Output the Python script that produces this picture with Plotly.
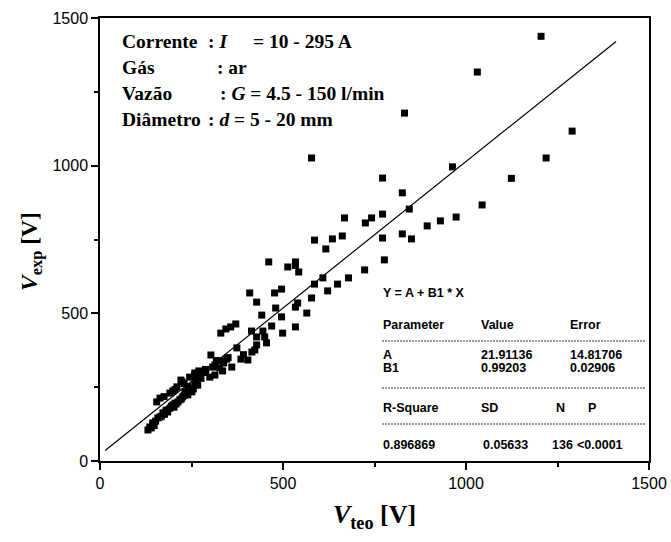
import plotly.graph_objects as go

v_teo = [1205, 1290, 1219, 1124, 1031, 832, 578, 963, 772, 826,
         1044, 845, 772, 973, 930, 894, 668, 742, 725, 662,
         635, 586, 772, 826, 851, 617, 777, 723, 679, 649,
         609, 586, 622, 578, 543, 540, 565, 461, 513, 534,
         534, 496, 477, 409, 428, 534, 480, 442, 496, 534,
         469, 445, 414, 499, 428, 450, 455, 371, 357, 344,
         330, 428, 423, 415, 374, 303, 346, 338, 327, 314,
         308, 385, 404, 360, 335, 327, 314, 300, 270, 267,
         259, 131, 136, 144, 158, 164, 172, 183, 185, 191,
         199, 205, 213, 218, 226, 240, 232, 251, 259, 155,
         164, 191, 199, 224, 221, 210, 245, 259, 273, 140,
         148, 152, 168, 176, 180, 195, 202, 208, 222, 230,
         236, 245, 255, 262, 276, 283, 289, 175, 205, 230,
         260, 318, 350, 392, 288, 240]
v_exp = [1438, 1117, 1026, 957, 1317, 1178, 1026, 996, 958, 908,
         867, 853, 836, 826, 813, 796, 823, 823, 806, 762,
         752, 748, 755, 769, 752, 718, 681, 647, 620, 599,
         620, 599, 576, 552, 640, 535, 501, 674, 657, 674,
         662, 582, 569, 569, 538, 521, 518, 494, 488, 454,
         457, 440, 440, 433, 420, 420, 400, 464, 454, 447,
         433, 393, 376, 369, 383, 359, 345, 332, 339, 325,
         318, 345, 342, 318, 305, 315, 291, 284, 305, 257,
         291, 105, 115, 129, 146, 149, 163, 173, 166, 179,
         190, 196, 200, 207, 217, 224, 234, 234, 257, 200,
         213, 230, 237, 268, 274, 251, 284, 298, 291, 112,
         120, 135, 152, 158, 170, 185, 182, 193, 210, 222,
         228, 240, 244, 270, 280, 300, 305, 218, 242, 262,
         286, 340, 350, 360, 310, 252]

# Linear fit parameters
fit_a = 21.91136
fit_b1 = 0.99203
fit_x = [14, 1410]
fit_y = [fit_a + fit_b1 * x for x in fit_x]

info_labels = ["Corrente", "Gás", "Vazão", "Diâmetro"]
info_values = [": <i>I</i>", ": ar",
               ": <i>G</i> = 4.5 - 150 l/min", ": <i>d</i> = 5 - 20 mm"]
current_range = "= 10 - 295 A"

table_rows = [
    ["Parameter", "Value", "Error"],
    ["A", "21.91136", "14.81706"],
    ["B1", "0.99203", "0.02906"],
]
stat_header = ["R-Square", "SD", "N", "P"]
stat_values = ["0.896869", "0.05633", "136", "<0.0001"]

x_title = "<b><i>V</i><sub>teo</sub> [V]</b>"
y_title = "<b><i>V</i><sub>exp</sub> [V]</b>"

W, H = 671, 542
L, R, T, B = 100, 22, 18, 81
PW, PH = W - L - R, H - T - B


def px(x):
    return (x - L) / PW


def py(y):
    return (H - B - y) / PH


fig = go.Figure()
fig.add_trace(go.Scatter(x=v_teo, y=v_exp, mode="markers",
                         marker=dict(symbol="square", size=7, color="black",
                                     line=dict(width=0)),
                         showlegend=False))
fig.add_trace(go.Scatter(x=fit_x, y=fit_y, mode="lines",
                         line=dict(color="black", width=1.2),
                         showlegend=False))

ann = []
serif = dict(family="Liberation Serif", size=19.5, color="black")
label_y = [41, 67, 93, 119]
value_x = [206, 215, 218, 206]
for lab, val, yy, vx in zip(info_labels, info_values, label_y, value_x):
    ann.append(dict(x=px(120), y=py(yy), xref="paper", yref="paper",
                    text="<b>" + lab + "</b>", showarrow=False,
                    xanchor="left", yanchor="middle", font=serif))
    ann.append(dict(x=px(vx), y=py(yy), xref="paper", yref="paper",
                    text="<b>" + val + "</b>", showarrow=False,
                    xanchor="left", yanchor="middle", font=serif))
ann.append(dict(x=px(251), y=py(label_y[0]), xref="paper", yref="paper",
                text="<b>" + current_range + "</b>", showarrow=False,
                xanchor="left", yanchor="middle", font=serif))

sans = dict(family="Liberation Sans", size=12.5, color="black")


def tx(text, x, y):
    ann.append(dict(x=px(x), y=py(y), xref="paper", yref="paper",
                    text="<b>" + text + "</b>", showarrow=False,
                    xanchor="left", yanchor="middle", font=sans))


tx("Y = A + B1 * X", 381, 293)
col_x = [381, 479, 568]
row_y = [325, 355, 368]
for row, yy in zip(table_rows, row_y):
    for t, xx in zip(row, col_x):
        tx(t, xx, yy)
for t, xx in zip(stat_header, [381, 479, 554, 586]):
    tx(t, xx, 408)
for t, xx in zip(stat_values, [381, 481, 550, 575]):
    tx(t, xx, 445)

# y-axis title placed as a rotated annotation centred on the axis
ann.append(dict(x=px(31), y=py(252), xref="paper", yref="paper",
                text=y_title, textangle=-90, showarrow=False,
                xanchor="center", yanchor="middle",
                font=dict(family="Liberation Serif", size=23.5, color="black")))

shapes = []
for yy in [341, 388, 424]:
    shapes.append(dict(type="line", xref="paper", yref="paper",
                       x0=px(382), x1=px(645), y0=py(yy), y1=py(yy),
                       line=dict(color="black", width=0.8, dash="2px,1px")))

axis_common = dict(
    range=[0, 1500], dtick=500, tick0=0, automargin=False,
    ticks="outside", ticklen=7, tickwidth=1.5, tickcolor="black",
    showline=True, linecolor="black", linewidth=1.5, mirror=True,
    showgrid=False, zeroline=False,
    tickfont=dict(family="Liberation Sans", size=16, color="black"),
    minor=dict(dtick=250, tick0=0, ticks="outside", ticklen=4,
               tickwidth=1.5, tickcolor="black", showgrid=False),
)

fig.update_layout(
    width=W, height=H,
    margin=dict(l=L, r=R, t=T, b=B),
    paper_bgcolor="white", plot_bgcolor="white",
    xaxis=dict(**axis_common,
               title=dict(text=x_title,
                          font=dict(family="Liberation Serif", size=26, color="black"),
                          standoff=14)),
    yaxis=dict(**axis_common),
    annotations=ann,
    shapes=shapes,
)

fig.write_html("out.html")
